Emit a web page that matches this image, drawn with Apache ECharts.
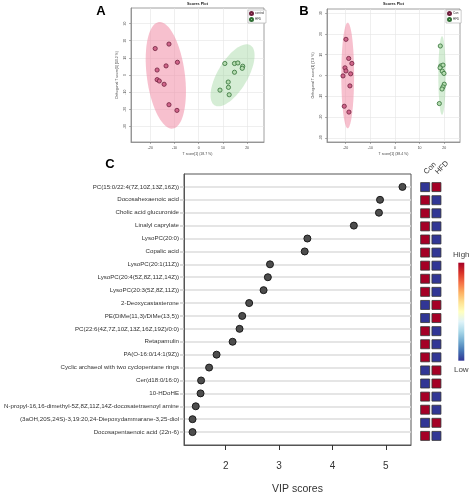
<!DOCTYPE html>
<html><head><meta charset="utf-8">
<script src="https://cdn.jsdelivr.net/npm/echarts@6/dist/echarts.min.js"></script>
<style>html,body{margin:0;padding:0;background:#fff}#c{width:472px;height:500px}</style>
</head><body><div id="c"></div>
<script>
// ---------- Panel A (scores plot) ----------
const aControlX = [-18.0, -12.3, -8.8, -13.5, -17.2, -17.2, -16.3, -14.3, -12.3, -9.0];
const aControlY = [15.4, 18.0, 7.4, 5.3, 2.9, -2.7, -3.5, -5.4, -17.3, -20.6];
const aHfdX = [10.8, 14.8, 16.2, 18.2, 18.0, 14.8, 12.2, 12.3, 12.6, 8.8];
const aHfdY = [6.7, 6.7, 7.0, 5.1, 3.9, 1.6, -4.1, -7.2, -11.5, -8.8];
// ellipse: centre x, centre y, first semi-axis (x, y), second semi-axis (x, y)
const aControlEllipse = [-13.6, -0.2, 2.9, -31.0, 7.8, 1.5];
const aHfdEllipse = [14.0, -0.2, 7.4, 17.5, 5.3, -4.5];
const aXTicks = [-20, -10, 0, 10, 20];
const aYTicks = [-30, -20, -10, 0, 10, 20, 30];

// ---------- Panel B (scores plot) ----------
const bConX = [-19.9, -18.8, -17.5, -20.3, -19.9, -18.0, -21.1, -18.3, -20.6, -18.7];
const bConY = [17.4, 8.2, 5.8, 3.7, 2.2, 0.8, -0.2, -5.0, -14.8, -17.6];
const bHfdX = [18.4, 18.6, 19.5, 18.3, 19.2, 19.9, 20.0, 19.5, 19.1, 18.0];
const bHfdY = [14.2, 4.6, 5.0, 3.7, 2.1, 1.0, -4.2, -5.5, -6.5, -13.5];
const bConEllipse = [-19.2, 0.0, 0.0, 25.4, 2.6, 0.0];
const bHfdEllipse = [19.1, 0.0, 0.0, 18.9, 1.5, 0.0];
const bXTicks = [-20, -10, 0, 10, 20];
const bYTicks = [-30, -20, -10, 0, 10, 20, 30];

// ---------- Panel C (VIP scores) ----------
const vipNames = [
  "PC(15:0/22:4(7Z,10Z,13Z,16Z))",
  "Docosahexaenoic acid",
  "Cholic acid glucuronide",
  "Linalyl caprylate",
  "LysoPC(20:0)",
  "Copalic acid",
  "LysoPC(20:1(11Z))",
  "LysoPC(20:4(5Z,8Z,11Z,14Z))",
  "LysoPC(20:3(5Z,8Z,11Z))",
  "2-Deoxycastasterone",
  "PE(DiMe(11,3)/DiMe(13,5))",
  "PC(22:6(4Z,7Z,10Z,13Z,16Z,19Z)/0:0)",
  "Retapamulin",
  "PA(O-16:0/14:1(9Z))",
  "Cyclic archaeol with two cyclopentane rings",
  "Cer(d18:0/16:0)",
  "10-HDoHE",
  "N-propyl-16,16-dimethyl-5Z,8Z,11Z,14Z-docosatetraenoyl amine",
  "(3aOH,20S,24S)-3,19:20,24-Diepoxydammarane-3,25-diol",
  "Docosapentaenoic acid (22n-6)"
];
const vipScores = [5.31, 4.89, 4.87, 4.40, 3.53, 3.48, 2.83, 2.79, 2.71, 2.44, 2.31, 2.26, 2.13, 1.83, 1.69, 1.54, 1.53, 1.44, 1.38, 1.38];
const conLevel = [-1, 1, 1, 1, 1, 1, 1, 1, 1, -1, -1, 1, 1, 1, -1, -1, 1, 1, -1, 1];
const hfdLevel = [1, -1, -1, -1, -1, -1, -1, -1, -1, 1, 1, -1, -1, -1, 1, 1, -1, -1, 1, -1];
const groupNames = ["Con", "HFD"];
const vipXTicks = [2, 3, 4, 5];
const colorScale = ['#313695', '#4575b4', '#74add1', '#abd9e9', '#e0f3f8', '#ffffbf', '#fee090', '#fdae61', '#f46d43', '#d73027', '#a50026'];
const scaleEnds = ['High', 'Low'];

// ---------- build ----------
const FONT = "Liberation Sans";
const rowPos = vipNames.map((_, i) => i + 1);

function ellipseSeries(ell, gi, fill) {
  return {
    type: 'custom', xAxisIndex: gi, yAxisIndex: gi, z: 1, silent: true,
    data: [ell], encode: { x: 0, y: 1 },
    renderItem: function (params, api) {
      const cx = api.value(0), cy = api.value(1), ax = api.value(2), ay = api.value(3), bx = api.value(4), by = api.value(5);
      const pts = [];
      for (let i = 0; i < 90; i++) {
        const t = i / 90 * 2 * Math.PI;
        pts.push(api.coord([cx + ax * Math.cos(t) + bx * Math.sin(t), cy + ay * Math.cos(t) + by * Math.sin(t)]));
      }
      return { type: 'polygon', shape: { points: pts }, style: { fill: fill } };
    }
  };
}
function pointSeries(name, xs, ys, gi, fill, stroke) {
  return {
    name: name, type: 'scatter', xAxisIndex: gi, yAxisIndex: gi, z: 3,
    data: xs.map((x, i) => [x, ys[i]]), symbol: 'circle', symbolSize: 4.2,
    itemStyle: { color: fill, borderColor: stroke, borderWidth: 0.8, opacity: 1 }
  };
}
function scoreX(gi, min, max, ticks, name) {
  return {
    gridIndex: gi, type: 'value', min: min, max: max, splitNumber: 5,
    axisLine: { show: true, onZero: false, lineStyle: { color: '#888', width: 0.8 } },
    axisTick: { show: true, length: 2, customValues: ticks, lineStyle: { color: '#666', width: 0.5 } },
    axisLabel: { customValues: ticks, fontSize: 3.5, color: '#444', margin: 4, fontFamily: FONT },
    splitLine: { show: true, lineStyle: { color: '#e4e4e4', width: 0.6 } },
    name: name, nameLocation: 'middle', nameGap: 10,
    nameTextStyle: { fontSize: 3.5, color: '#444', fontFamily: FONT }
  };
}
function scoreY(gi, min, max, ticks, name) {
  return {
    gridIndex: gi, type: 'value', min: min, max: max, splitNumber: 8,
    axisLine: { show: true, onZero: false, lineStyle: { color: '#888', width: 0.8 } },
    axisTick: { show: true, length: 2, customValues: ticks, lineStyle: { color: '#666', width: 0.5 } },
    axisLabel: { customValues: ticks, fontSize: 3.5, color: '#444', margin: 4, rotate: 90, fontFamily: FONT },
    splitLine: { show: true, lineStyle: { color: '#e4e4e4', width: 0.6 } },
    name: name, nameLocation: 'middle', nameGap: 12,
    nameTextStyle: { fontSize: 3.5, color: '#444', fontFamily: FONT }
  };
}

const PINK_FILL = 'rgba(240,140,165,0.55)';
const GREEN_FILL = 'rgba(150,210,150,0.4)';
const PINK_PT = '#d0658a', PINK_EDGE = '#6e1f3c';
const GREEN_PT = '#b5dcb0', GREEN_EDGE = '#2f6e33';

const barStops = colorScale.slice().reverse().map((c, i, arr) => ({ offset: i / (arr.length - 1), color: c }));

const chart = echarts.init(document.getElementById('c'), null, { renderer: 'canvas' });
chart.setOption({
  animation: false,
  backgroundColor: '#fff',
  textStyle: { fontFamily: FONT },
  graphic: [
    { type: 'text', x: 101, y: 11, style: { text: 'A', font: 'bold 13px "Liberation Sans"', fill: '#000', textAlign: 'center', textVerticalAlign: 'middle' } },
    { type: 'text', x: 304, y: 11, style: { text: 'B', font: 'bold 13px "Liberation Sans"', fill: '#000', textAlign: 'center', textVerticalAlign: 'middle' } },
    { type: 'text', x: 110, y: 164, style: { text: 'C', font: 'bold 13px "Liberation Sans"', fill: '#000', textAlign: 'center', textVerticalAlign: 'middle' } },
    { type: 'text', x: 197.5, y: 4, style: { text: 'Scores Plot', font: 'bold 3.8px "Liberation Sans"', fill: '#222', textAlign: 'center', textVerticalAlign: 'middle' } },
    { type: 'text', x: 393.5, y: 4, style: { text: 'Scores Plot', font: 'bold 3.8px "Liberation Sans"', fill: '#222', textAlign: 'center', textVerticalAlign: 'middle' } },
    { type: 'rect', shape: { x: 458.3, y: 262.7, width: 6, height: 98 },
      style: { fill: { type: 'linear', x: 0, y: 0, x2: 0, y2: 1, colorStops: barStops } } },
    { type: 'text', x: 461.3, y: 254.5, style: { text: scaleEnds[0], font: '8px "Liberation Sans"', fill: '#444', textAlign: 'center', textVerticalAlign: 'middle' } },
    { type: 'text', x: 461.3, y: 369.5, style: { text: scaleEnds[1], font: '8px "Liberation Sans"', fill: '#444', textAlign: 'center', textVerticalAlign: 'middle' } }
  ],
  legend: [
    { data: ['control', 'HFD'], left: 248, top: 10, orient: 'vertical', itemWidth: 3, itemHeight: 3, itemGap: 1, padding: [1, 2, 1, 1],
      icon: 'circle', borderColor: '#999', borderWidth: 0.5, backgroundColor: '#fff', textStyle: { fontSize: 3, color: '#333', padding: [0, 0, 0, -3] }, selectedMode: false },
    { data: ['Con', 'HFD'], left: 446, top: 10, orient: 'vertical', itemWidth: 3, itemHeight: 3, itemGap: 1, padding: [1, 2, 1, 1],
      icon: 'circle', borderColor: '#999', borderWidth: 0.5, backgroundColor: '#fff', textStyle: { fontSize: 3, color: '#333', padding: [0, 0, 0, -3] }, selectedMode: false }
  ],
  grid: [
    { left: 131, top: 8, width: 133, height: 134, show: true, borderColor: '#888', borderWidth: 0.8, backgroundColor: '#fff' },
    { left: 327, top: 9, width: 133, height: 133, show: true, borderColor: '#888', borderWidth: 0.8, backgroundColor: '#fff' },
    { left: 184, top: 174, width: 227, height: 275, show: true, borderColor: '#555', borderWidth: 1, backgroundColor: '#fff' },
    { left: 419.5, top: 174, width: 22.6, height: 275 }
  ],
  xAxis: [
    scoreX(0, -28, 27, aXTicks, 'T score[1] (18.7 %)'),
    scoreX(1, -27.6, 26.4, bXTicks, 'T score[1] (38.4 %)'),
    {
      gridIndex: 2, type: 'value', min: 1.22, max: 5.47,
      axisLine: { show: true, onZero: false, lineStyle: { color: '#555', width: 1 } },
      axisTick: { show: true, length: 5, customValues: vipXTicks, lineStyle: { color: '#333', width: 1 } },
      axisLabel: { customValues: vipXTicks, fontSize: 10, color: '#333', margin: 16, fontFamily: FONT },
      splitLine: { show: false },
      name: 'VIP scores', nameLocation: 'middle', nameGap: 39,
      nameTextStyle: { fontSize: 10.5, color: '#333', fontFamily: FONT }
    },
    {
      gridIndex: 3, type: 'category', data: groupNames, position: 'top',
      axisLine: { show: false }, axisTick: { show: false }, splitLine: { show: false },
      axisLabel: { interval: 0, rotate: 45, fontSize: 7.5, color: '#333', margin: 1, fontFamily: FONT }
    }
  ],
  yAxis: [
    scoreY(0, -39, 39, aYTicks, 'Orthogonal T score[1] (10.2 %)'),
    scoreY(1, -32, 32, bYTicks, 'Orthogonal T score[1] (7.9 %)'),
    {
      gridIndex: 2, type: 'value', min: 0, max: 21, inverse: true,
      axisLine: { show: true, onZero: false, lineStyle: { color: '#555', width: 1 } },
      axisTick: { show: true, length: 4, customValues: rowPos, lineStyle: { color: '#cfcfcf', width: 1.5 } },
      axisLabel: {
        customValues: rowPos, fontSize: 6.15, color: '#333', margin: 5, fontFamily: FONT,
        formatter: function (v) { return vipNames[Math.round(v) - 1] || ''; }
      },
      splitLine: { show: true, lineStyle: { color: '#dcdcdc', width: 1.5 } }
    },
    {
      gridIndex: 3, type: 'value', min: 0, max: 21, inverse: true, show: false
    }
  ],
  visualMap: {
    type: 'continuous', show: false, seriesIndex: 9, dimension: 2, min: -1, max: 1,
    inRange: { color: colorScale }
  },
  series: [
    ellipseSeries(aControlEllipse, 0, PINK_FILL),
    ellipseSeries(aHfdEllipse, 0, GREEN_FILL),
    pointSeries('control', aControlX, aControlY, 0, PINK_PT, PINK_EDGE),
    pointSeries('HFD', aHfdX, aHfdY, 0, GREEN_PT, GREEN_EDGE),
    ellipseSeries(bConEllipse, 1, PINK_FILL),
    ellipseSeries(bHfdEllipse, 1, GREEN_FILL),
    pointSeries('Con', bConX, bConY, 1, PINK_PT, PINK_EDGE),
    pointSeries('HFD', bHfdX, bHfdY, 1, GREEN_PT, GREEN_EDGE),
    {
      type: 'scatter', xAxisIndex: 2, yAxisIndex: 2, z: 3,
      data: vipScores.map((v, i) => [v, rowPos[i]]),
      symbol: 'circle', symbolSize: 7,
      itemStyle: { color: '#4d4d4d', borderColor: '#1a1a1a', borderWidth: 1, opacity: 1 }
    },
    {
      type: 'scatter', xAxisIndex: 3, yAxisIndex: 3, z: 3,
      data: conLevel.map((v, i) => [groupNames[0], rowPos[i], v]).concat(hfdLevel.map((v, i) => [groupNames[1], rowPos[i], v])),
      symbol: 'rect', symbolSize: 9,
      itemStyle: { borderColor: '#333', borderWidth: 0.8, opacity: 1 }
    }
  ]
});
</script>
</body></html>
